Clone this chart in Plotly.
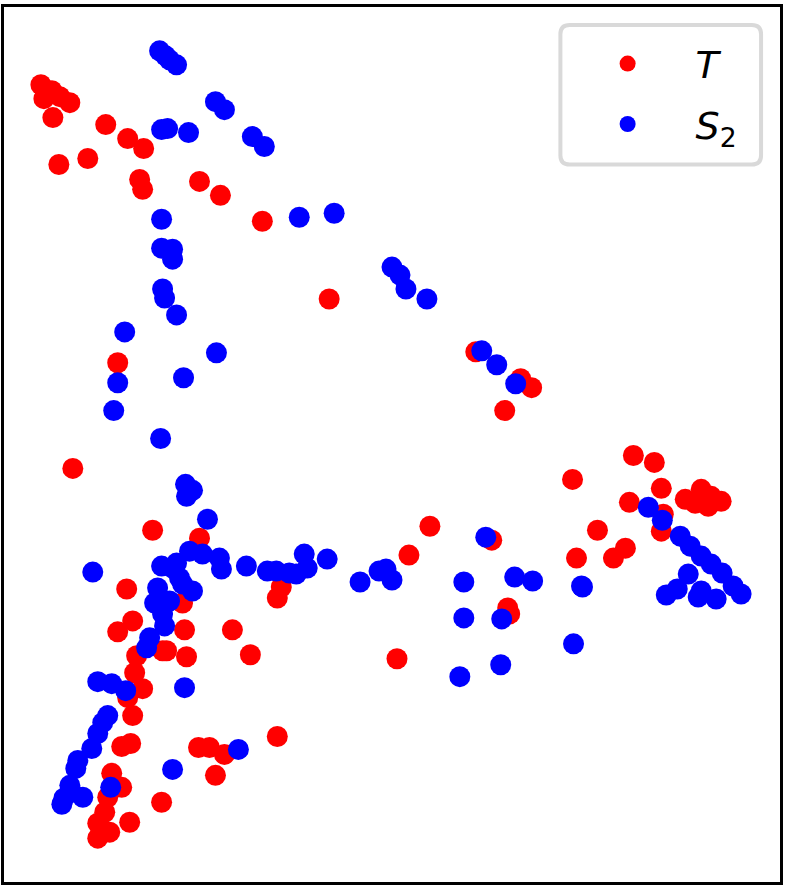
import plotly.graph_objects as go

# T points (image-style coordinates: y grows downward)
t_x = [41, 46, 52, 60, 70, 44, 53, 106, 128, 144, 59, 88, 140, 143, 200, 221, 263,
       330, 477, 522, 533, 506, 118, 73, 153, 200, 127, 282, 278, 118, 133, 185, 233,
       251, 187, 163, 137, 167, 183, 135, 143, 128, 133, 122, 131, 112, 122, 108, 98,
       110, 130, 98, 105, 162, 199, 210, 225, 216, 278, 431, 410, 493, 509, 511, 398,
       578, 599, 574, 635, 656, 663, 631, 687, 703, 713, 723, 697, 710, 665, 663, 627,
       615]
t_y = [82, 90, 88, 94, 100, 96, 115, 122, 136, 146, 162, 156, 177, 187, 179, 193, 219,
       297, 350, 377, 386, 409, 361, 467, 529, 537, 588, 586, 597, 631, 620, 629, 629,
       654, 656, 650, 655, 650, 602, 672, 688, 697, 715, 746, 743, 773, 787, 797, 823,
       832, 822, 838, 812, 802, 747, 747, 754, 775, 736, 525, 554, 539, 607, 613, 658,
       557, 529, 478, 454, 461, 487, 501, 498, 488, 495, 500, 502, 505, 513, 530, 547,
       557]

# S2 points
s2_x = [160, 166, 170, 177, 216, 225, 162, 168, 189, 253, 265, 162, 162, 173, 173, 163,
        165, 177, 125, 217, 184, 118, 114, 161, 186, 193, 187, 208, 300, 335, 393, 401,
        407, 428, 483, 498, 517,
        162, 177, 190, 203, 220, 222, 193, 180, 158, 155, 163, 165, 150, 147, 173, 183, 170,
        93, 247, 268, 277, 290, 297, 305, 308, 328, 361, 380, 387, 393, 487, 465, 516,
        534, 584, 465, 503, 575, 502, 461, 185,
        98, 112, 126, 108, 103, 98, 92, 78, 76, 70, 64, 62, 83, 72, 111, 173, 239,
        650, 664, 682, 692, 703, 713, 724, 690, 668, 679, 700, 718, 735, 743, 703, 583]
s2_y = [48, 53, 57, 62, 99, 107, 127, 126, 130, 134, 144, 217, 246, 247, 257, 287,
        296, 313, 330, 351, 376, 381, 409, 437, 483, 489, 495, 518, 215, 211, 265, 273,
        287, 297, 349, 363, 382,
        565, 562, 550, 553, 557, 568, 590, 577, 587, 602, 613, 625, 637, 647, 567, 583, 600,
        571, 565, 570, 570, 572, 573, 553, 567, 558, 581, 570, 568, 579, 536, 581, 576,
        580, 586, 617, 618, 643, 664, 676, 687,
        681, 683, 690, 715, 722, 733, 748, 760, 768, 785, 798, 804, 797, 792, 787, 769, 749,
        506, 519, 535, 545, 555, 563, 572, 573, 594, 588, 596, 598, 585, 593, 590, 585]

fig = go.Figure()
fig.add_trace(go.Scatter(x=t_x, y=t_y, mode="markers", name="<i>T</i>", legendgroup="t",
                         marker=dict(color="#ff0000", size=21, line=dict(width=0))))
fig.add_trace(go.Scatter(x=s2_x, y=s2_y, mode="markers", name="<i>S</i><sub>2</sub>",
                         legendgroup="s2",
                         marker=dict(color="#0000ff", size=21, line=dict(width=0))))

axis_style = dict(showgrid=False, zeroline=False, showticklabels=False, ticks="",
                  showline=True, mirror=True, linecolor="black", linewidth=3)

# rounded legend frame
x0, x1, y0, y1, r = 0.717, 0.9756, 0.820, 0.9795, 0.012
ry = r * 779 / 878
legend_box = (f"M {x0 + r},{y1} L {x1 - r},{y1} Q {x1},{y1} {x1},{y1 - ry} "
              f"L {x1},{y0 + ry} Q {x1},{y0} {x1 - r},{y0} L {x0 + r},{y0} "
              f"Q {x0},{y0} {x0},{y0 + ry} L {x0},{y1 - ry} Q {x0},{y1} {x0 + r},{y1} Z")

fig.update_layout(
    width=787, height=886,
    margin=dict(l=4, r=5, t=4, b=4),
    paper_bgcolor="white", plot_bgcolor="white",
    font=dict(family="DejaVu Sans", color="black"),
    xaxis=dict(range=[4, 782], **axis_style),
    yaxis=dict(range=[882, 4], **axis_style),
    showlegend=True,
    legend=dict(x=0.716, y=0.971, xanchor="left", yanchor="top",
                bgcolor="rgba(0,0,0,0)", borderwidth=0,
                font=dict(size=38, family="DejaVu Sans"),
                itemwidth=126, itemsizing="trace", tracegroupgap=8),
    shapes=[dict(type="path", path=legend_box, xref="paper", yref="paper",
                 line=dict(color="#d9d9d9", width=4), fillcolor="rgba(255,255,255,0.8)",
                 layer="above")],
)

# drop the default page margin so the figure sits at the window's corner
fig.write_html("out.html", config={"displayModeBar": False},
               post_script="document.body.style.margin='0';")
